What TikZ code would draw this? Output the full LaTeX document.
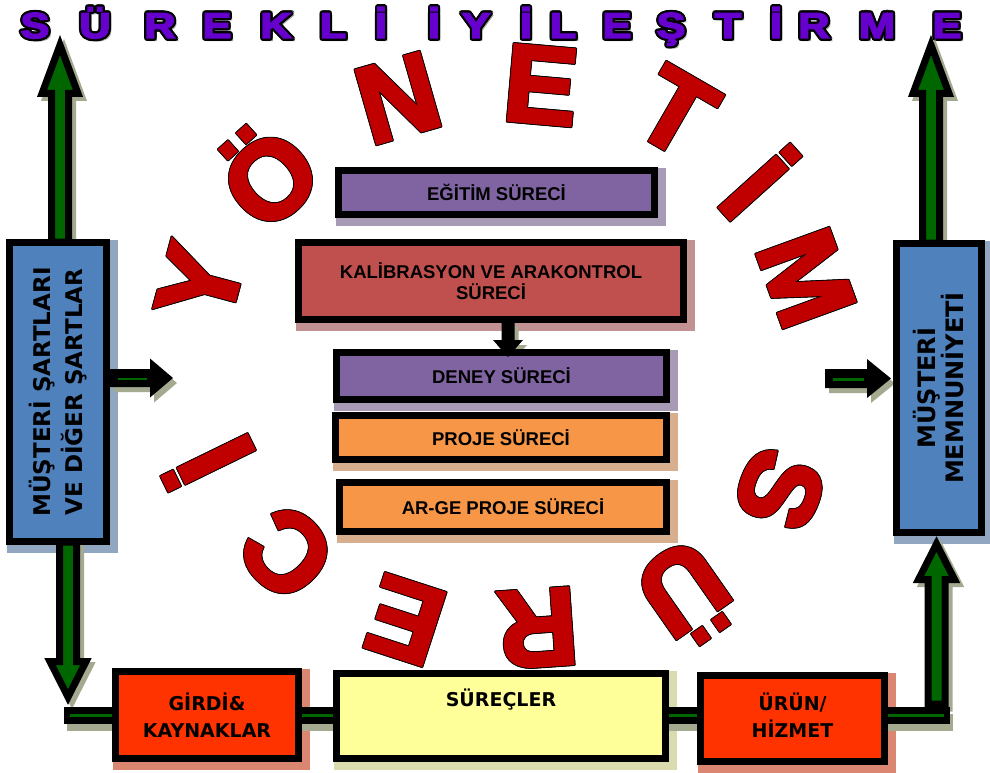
\documentclass[tikz,border=0pt]{standalone}
\usepackage{fontspec}
\setmainfont{Liberation Sans}
\newfontfamily\tah{DejaVu Sans}
\newfontfamily\ttlfont{Liberation Sans Bold}[FakeBold=4]
\newfontfamily\bigfont{Liberation Sans Bold}[FakeBold=3]
\usetikzlibrary{calc}
\definecolor{ttlpurple}{HTML}{6600CC}
\definecolor{bigred}{HTML}{C00000}
\definecolor{boxblue}{HTML}{4F81BD}
\definecolor{boxpurple}{HTML}{8064A2}
\definecolor{boxred}{HTML}{C0504D}
\definecolor{boxorange}{HTML}{F79646}
\definecolor{boxscarlet}{HTML}{FF3300}
\definecolor{boxyellow}{HTML}{FFFF99}
\definecolor{arrgreen}{HTML}{006600}
\definecolor{arrshadow}{HTML}{A3AA90}
\pgfdeclarelayer{letters}
\pgfdeclarelayer{shadows}
\pgfdeclarelayer{lines}
\pgfdeclarelayer{arrows}
\pgfsetlayers{letters,shadows,lines,main,arrows}
% #1 start, #2 tip, #3 shaft half width, #4 head half width, #5 head length, #6 prefix, #7 body style, #8 shadow style
\newcommand\BlockArrow[8]{%
  \path ($(#2)!#5!(#1)$) coordinate (#6hb);
  \path ($(#1)!#3!-90:(#2)$) coordinate (#6s1)
        ($(#6hb)!#3!-90:(#2)$) coordinate (#6h1)
        ($(#6hb)!#4!-90:(#2)$) coordinate (#6k1)
        ($(#6hb)!#4!90:(#2)$) coordinate (#6k2)
        ($(#6hb)!#3!90:(#2)$) coordinate (#6h2)
        ($(#1)!#3!90:(#2)$) coordinate (#6s2);
  \begin{pgfonlayer}{shadows}
    \draw[#8] (#6s1) -- (#6h1) -- (#6k1) -- (#2) -- (#6k2) -- (#6h2) -- (#6s2) -- cycle;
  \end{pgfonlayer}
  \begin{pgfonlayer}{arrows}
    \draw[#7] (#6s1) -- (#6h1) -- (#6k1) -- (#2) -- (#6k2) -- (#6h2) -- (#6s2) -- cycle;
  \end{pgfonlayer}
}
\begin{document}
\begin{tikzpicture}[x=1pt,y=-1pt,
  ttl/.style={font=\ttlfont\fontsize{36}{36}\selectfont, inner sep=0pt, anchor=base, xscale=1.2, transform shape},
  bigl/.style={font=\bigfont\fontsize{110}{110}\selectfont, inner sep=0pt},
  box/.style={draw=black, line width=7pt, fill=#1, inner sep=0pt, text=black},
  ctr/.style={font=\bfseries\fontsize{18.5}{21}\selectfont, align=center},
  tahf/.style={font=\tah\bfseries\fontsize{19}{27}\selectfont, align=center},
  arrbody/.style={fill=arrgreen, draw=black, line width=7pt, line join=miter, miter limit=20},
  arrshade/.style={fill=arrshadow, draw=arrshadow, line width=7pt, line join=miter, miter limit=20, transform canvas={shift={(4pt,-4pt)}}},
  sbody/.style={fill=black, draw=none},
  sshade/.style={fill=arrshadow, draw=none, transform canvas={shift={(4pt,-5pt)}}},
  conn/.style={draw=black, line width=17pt},
  connshade/.style={draw=arrshadow, line width=17pt, transform canvas={shift={(3pt,-7pt)}}},
  conngreen/.style={draw=arrgreen, line width=3pt}
]
\useasboundingbox (0,0) rectangle (990,773);
\begin{pgfonlayer}{letters}
  \fill[white] (0,0) rectangle (990,773);
  % title
  \foreach \xx/\ll [count=\ii] in {35/S,95/Ü,160/R,217/E,276/K,333/L,381/İ,434/İ,476/Y,526/İ,563/L,617/E,671/Ş,728/T,776/İ,814/R,877/M,947/E}{
    \node[ttl, text=black!35] (ts\ii) at (\xx+2.5,40.5) {\ll};
    \foreach \aa in {0,30,...,330}
      \node[ttl, text=black] (to\ii-\aa) at ($(\xx,38)+(\aa:2.2)$) {\ll};
    \node[ttl, text=ttlpurple] (t\ii) at (\xx,38) {\ll};
  }
  % circular red letters
  \foreach \xx/\yy/\rr/\ll [count=\ii] in {200/283/75/Y,265/173/42/Ö,398/98/16/N,541/85/-5/E,676/112/-30/T,760/182/-48/İ,806/278/-70/M,780/490/-112/S,687/595/-145/Ü,538/628/-176/R,405/620/162/E,287/553/135/C,208/463/116/İ}{
    \foreach \aa in {0,45,...,315}
      \node[bigl, rotate=\rr, text=black] (bo\ii-\aa) at ($(\xx,\yy)+(\aa:0.9)$) {\ll};
    \node[bigl, rotate=\rr, text=bigred] (b\ii) at (\xx,\yy) {\ll};
  }
\end{pgfonlayer}

% boxes
\node[box=boxblue, minimum width=97pt, minimum height=299pt] (lbox) at (58,392) {};
\node[box=boxblue, minimum width=85pt, minimum height=289pt] (rbox) at (939,388) {};
\node[box=boxpurple, minimum width=316pt, minimum height=44pt, ctr] (egt) at (496.5,192.5) {EĞİTİM SÜRECİ};
\node[box=boxred, minimum width=385pt, minimum height=77pt, ctr] (kal) at (491,281) {KALİBRASYON VE ARAKONTROL\\SÜRECİ};
\node[box=boxpurple, minimum width=330pt, minimum height=47pt, ctr] (den) at (501.5,376) {DENEY SÜRECİ};
\node[box=boxorange, minimum width=331pt, minimum height=44pt, ctr] (pro) at (501,437.5) {PROJE SÜRECİ};
\node[box=boxorange, minimum width=327pt, minimum height=49pt, ctr] (arg) at (503,507) {AR-GE PROJE SÜRECİ};
\node[box=boxscarlet, minimum width=183pt, minimum height=87pt, tahf] (gir) at (207,715) {GİRDİ\&\\KAYNAKLAR};
\node[box=boxyellow, minimum width=329pt, minimum height=85pt] (sur) at (501,716) {};
\node[box=boxscarlet, minimum width=184pt, minimum height=86pt, tahf, text depth=6pt] (uru) at (792.5,718.5) {ÜRÜN/\\HİZMET};
\node[tahf] (surt) at (501,700) {SÜREÇLER};
\node[tahf, rotate=90, font=\tah\bfseries\fontsize{23}{32}\selectfont] (ltxt) at (lbox) {MÜŞTERİ ŞARTLARI\\VE DİĞER ŞARTLAR};
\node[tahf, rotate=90, font=\tah\bfseries\fontsize{24}{26}\selectfont] (rtxt) at (rbox) {MÜŞTERİ\\MEMNUNİYETİ};

% box shadows
\begin{pgfonlayer}{shadows}
  \foreach \bb/\cc in {lbox/boxblue,rbox/boxblue,egt/boxpurple,kal/boxred,den/boxpurple,pro/boxorange,arg/boxorange,gir/boxscarlet,sur/boxyellow,uru/boxscarlet}{
    \fill[\cc!60!gray!70!white, transform canvas={shift={(4pt,-4pt)}}]
      ($(\bb.south west)+(-3.5,3.5)$) rectangle ($(\bb.north east)+(3.5,-3.5)$);
  }
\end{pgfonlayer}

% bottom connector line
\coordinate (hl) at (64,715);
\coordinate (hr) at (950,715);
\begin{pgfonlayer}{shadows}
  \draw[connshade] (hl) -- (hr);
\end{pgfonlayer}
\begin{pgfonlayer}{lines}
  \draw[conn] (hl) -- (gir.west |- hl);
  \draw[conn] (gir.east |- hl) -- (sur.west |- hl);
  \draw[conn] (sur.east |- hl) -- (uru.west |- hl);
  \draw[conn] (uru.east |- hl) -- (hr);
  \draw[conngreen] ($(hl)+(6,0)$) -- (gir.west |- hl);
  \draw[conngreen] (gir.east |- hl) -- (sur.west |- hl);
  \draw[conngreen] (sur.east |- hl) -- (uru.west |- hl);
  \draw[conngreen] (uru.east |- hl) -- ($(hr)+(-6,0)$);
\end{pgfonlayer}

% big block arrows
\coordinate (a1s) at (60,242);   \coordinate (a1t) at (60,45);
\coordinate (a2s) at (931,243);  \coordinate (a2t) at (931,45);
\coordinate (a3s) at (68,542);   \coordinate (a3t) at (68,697);
\coordinate (a4s) at (936.5,704); \coordinate (a4t) at (936.5,544);
\BlockArrow{a1s}{a1t}{8.5pt}{18pt}{48.5pt}{a1}{arrbody}{arrshade}
\BlockArrow{a2s}{a2t}{8.5pt}{18pt}{48.5pt}{a2}{arrbody}{arrshade}
\BlockArrow{a3s}{a3t}{8.5pt}{18pt}{35.5pt}{a3}{arrbody}{arrshade}
\BlockArrow{a4s}{a4t}{8.5pt}{18pt}{35.5pt}{a4}{arrbody}{arrshade}

% small arrows
\coordinate (s1s) at (110,378);  \coordinate (s1t) at (173,378);
\coordinate (s2s) at (825,378.5);  \coordinate (s2t) at (891,378.5);
\coordinate (s3s) at (508,321);  \coordinate (s3t) at (508,357);
\BlockArrow{s1s}{s1t}{9pt}{19.5pt}{23pt}{s1}{sbody}{sshade}
\BlockArrow{s2s}{s2t}{9.5pt}{19.5pt}{24pt}{s2}{sbody}{sshade}
\BlockArrow{s3s}{s3t}{6.5pt}{15pt}{17pt}{s3}{sbody}{sshade}
\begin{pgfonlayer}{arrows}
  \draw[conngreen, line width=2.5pt] ($(s1s)+(8,1)$) -- ($(s1hb)+(-3,1)$);
  \draw[conngreen, line width=2.5pt] ($(s2s)+(8,1)$) -- ($(s2hb)+(-3,1)$);
\end{pgfonlayer}
\end{tikzpicture}
\end{document}
